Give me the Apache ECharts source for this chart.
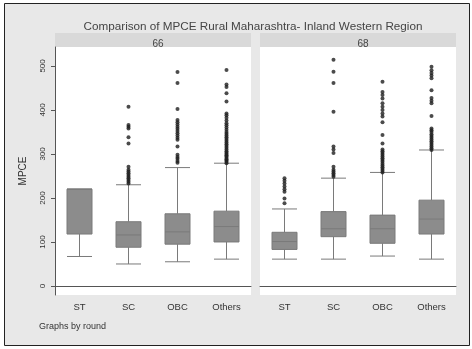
<!DOCTYPE html>
<html>
<head>
<meta charset="utf-8">
<script src="https://cdn.jsdelivr.net/npm/echarts@6/dist/echarts.min.js"></script>
<style>
  html, body { margin: 0; padding: 0; background: #fff; }
  #chart { width: 472px; height: 349px; }
</style>
</head>
<body>
<div id="chart"></div>
<script>
// categories and tick labels
const categories = ["ST", "SC", "OBC", "Others"];
const rounds = ["66", "68"];
const yTicks = [0, 100, 200, 300, 400, 500];

// box values per category: [lower whisker, Q1, median, Q3, upper whisker]
const boxes66 = [
  [67, 118, 220, 220, 220],
  [50, 88, 116, 146, 230],
  [55, 95, 123, 164, 269],
  [61, 100, 135, 170, 279]
];
const boxes68 = [
  [61, 83, 101, 122, 175],
  [61, 112, 130, 169, 245],
  [68, 97, 130, 161, 258],
  [61, 118, 152, 195, 309]
];

// outliers per category
const outliers66 = [
  [],
  [233, 237, 241, 245, 248, 252, 256, 260, 264, 271, 324, 338, 358, 362, 366, 407],
  [280, 284, 289, 293, 298, 317, 332, 337, 342, 347, 352, 357, 362, 367, 372, 377, 402, 461, 486],
  [279, 282, 285, 288, 291, 294, 297, 300, 303, 306, 310, 314, 318, 322, 326, 330, 334, 338, 342, 346, 350, 355, 360, 365, 370, 376, 382, 388, 392, 419, 438, 452, 458, 491]
];
const outliers68 = [
  [188, 199, 214, 220, 226, 233, 239, 245],
  [248, 252, 256, 260, 264, 271, 302, 310, 317, 396, 461, 487, 514],
  [258, 262, 266, 270, 274, 278, 282, 286, 290, 294, 298, 302, 306, 310, 324, 343, 372, 385, 392, 400, 407, 415, 426, 434, 441, 464],
  [309, 313, 317, 321, 325, 329, 333, 337, 341, 345, 350, 354, 358, 386, 415, 421, 427, 445, 472, 478, 484, 490, 498]
];

function toPoints(lists) {
  const pts = [];
  lists.forEach((vals, i) => {
    vals.forEach(v => pts.push([i, v]));
  });
  return pts;
}

const font = "Liberation Sans, Arial, sans-serif";
const chart = echarts.init(document.getElementById("chart"));

const xAxisBase = {
  type: "category",
  data: categories,
  axisLine: { show: true, lineStyle: { color: "#555", width: 1 } },
  axisTick: { show: false },
  axisLabel: { color: "#333", fontSize: 9.5, fontFamily: font, margin: 7 },
  splitLine: { show: false }
};
const yAxisBase = {
  type: "value",
  min: -20.5,
  max: 543,
  splitLine: { show: false },
  axisLine: { show: true, lineStyle: { color: "#555", width: 1 } },
  axisTick: { show: true, length: 4, customValues: yTicks, lineStyle: { color: "#555" } },
  axisLabel: {
    show: true,
    customValues: yTicks,
    rotate: 90,
    color: "#333",
    fontSize: 8,
    fontFamily: font,
    margin: 8
  }
};

const boxStyle = {
  color: "#8c8c8c",
  borderColor: "#7a7a7a",
  borderWidth: 1
};
const dotStyle = { color: "#1e1e1e" };

chart.setOption({
  animation: false,
  backgroundColor: "#ffffff",
  graphic: [
    {
      type: "rect",
      z: -10,
      shape: { x: 4.5, y: 3.5, width: 465, height: 342 },
      style: { fill: "#e8e8e8", stroke: "#222", lineWidth: 1 }
    },
    {
      type: "rect",
      z: -9,
      shape: { x: 55, y: 33, width: 196, height: 14 },
      style: { fill: "#d9d9d9" }
    },
    {
      type: "rect",
      z: -9,
      shape: { x: 260, y: 33, width: 196, height: 14 },
      style: { fill: "#d9d9d9" }
    }
  ],
  title: [
    {
      text: "Comparison of MPCE Rural Maharashtra- Inland Western Region",
      left: 248,
      top: 16,
      textAlign: "center",
      textStyle: { color: "#444", fontSize: 11.7, fontWeight: "normal", fontFamily: font }
    },
    {
      text: rounds[0],
      left: 153,
      top: 34,
      textAlign: "center",
      textStyle: { color: "#444", fontSize: 10, fontWeight: "normal", fontFamily: font }
    },
    {
      text: rounds[1],
      left: 358,
      top: 34,
      textAlign: "center",
      textStyle: { color: "#444", fontSize: 10, fontWeight: "normal", fontFamily: font }
    },
    {
      text: "Graphs by round",
      left: 34,
      top: 317,
      textStyle: { color: "#333", fontSize: 9, fontWeight: "normal", fontFamily: font }
    }
  ],
  grid: [
    { left: 55, top: 47, width: 196, height: 248, show: true, backgroundColor: "#fff", borderWidth: 0 },
    { left: 260, top: 47, width: 196, height: 248, show: true, backgroundColor: "#fff", borderWidth: 0 }
  ],
  xAxis: [
    Object.assign({ gridIndex: 0 }, xAxisBase),
    Object.assign({ gridIndex: 1 }, xAxisBase)
  ],
  yAxis: [
    Object.assign({
      gridIndex: 0,
      name: "MPCE",
      nameLocation: "middle",
      nameGap: 27,
      nameTextStyle: { color: "#333", fontSize: 10, fontFamily: font }
    }, yAxisBase),
    Object.assign({}, yAxisBase, {
      gridIndex: 1,
      axisLine: { show: false },
      axisTick: { show: false },
      axisLabel: { show: false }
    })
  ],
  series: [
    {
      type: "boxplot",
      xAxisIndex: 0,
      yAxisIndex: 0,
      data: boxes66,
      boxWidth: [25, 25],
      itemStyle: boxStyle
    },
    {
      type: "boxplot",
      xAxisIndex: 1,
      yAxisIndex: 1,
      data: boxes68,
      boxWidth: [25, 25],
      itemStyle: boxStyle
    },
    {
      type: "scatter",
      xAxisIndex: 0,
      yAxisIndex: 0,
      data: toPoints(outliers66),
      symbolSize: 4,
      itemStyle: dotStyle
    },
    {
      type: "scatter",
      xAxisIndex: 1,
      yAxisIndex: 1,
      data: toPoints(outliers68),
      symbolSize: 4,
      itemStyle: dotStyle
    }
  ]
});
</script>
</body>
</html>
